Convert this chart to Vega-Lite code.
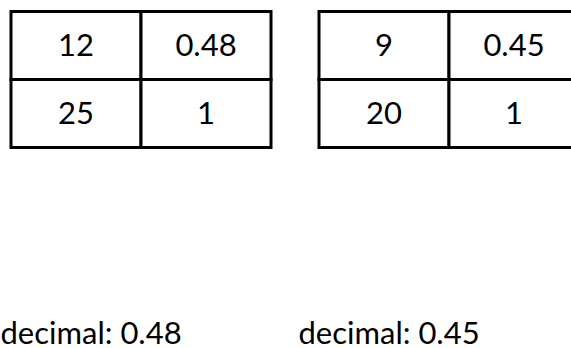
{
  "$schema": "https://vega.github.io/schema/vega-lite/v6.json",
  "padding": {"left": 0, "top": 9.5, "right": 0, "bottom": 0},
  "spacing": 25,
  "background": "white",
  "config": {"view": {"stroke": null}, "font": "Lato"},
  "datasets": {
    "cells": [
      {"table": "A", "row": 1, "col": 1, "value": "12"},
      {"table": "A", "row": 1, "col": 2, "value": "0.48"},
      {"table": "A", "row": 2, "col": 1, "value": "25"},
      {"table": "A", "row": 2, "col": 2, "value": "1"},
      {"table": "B", "row": 1, "col": 1, "value": "9"},
      {"table": "B", "row": 1, "col": 2, "value": "0.45"},
      {"table": "B", "row": 2, "col": 1, "value": "20"},
      {"table": "B", "row": 2, "col": 2, "value": "1"}
    ]
  },
  "hconcat": [
    {
      "width": 260,
      "height": 136,
      "data": {"name": "cells"},
      "transform": [{"filter": "datum.table == 'A'"}],
      "title": {"text": "decimal: 0.48", "orient": "bottom", "anchor": "start", "dx": -9, "offset": 195, "fontSize": 31, "fontWeight": "normal", "font": "Lato", "color": "black", "baseline": "alphabetic"},
      "layer": [
        {
          "mark": {"type": "rect", "fill": "white", "stroke": "black", "strokeWidth": 3},
          "encoding": {
            "x": {"field": "col", "type": "ordinal", "axis": null, "scale": {"paddingInner": 0, "paddingOuter": 0}},
            "y": {"field": "row", "type": "ordinal", "axis": null, "scale": {"paddingInner": 0, "paddingOuter": 0}}
          }
        },
        {
          "mark": {"type": "text", "fontSize": 31, "font": "Lato", "color": "black", "baseline": "middle", "dy": 1},
          "encoding": {
            "x": {"field": "col", "type": "ordinal", "axis": null},
            "y": {"field": "row", "type": "ordinal", "axis": null},
            "text": {"field": "value"}
          }
        }
      ]
    },
    {
      "width": 260,
      "height": 136,
      "data": {"name": "cells"},
      "transform": [{"filter": "datum.table == 'B'"}],
      "title": {"text": "decimal: 0.45", "orient": "bottom", "anchor": "start", "dx": -19, "offset": 195, "fontSize": 31, "fontWeight": "normal", "font": "Lato", "color": "black", "baseline": "alphabetic"},
      "layer": [
        {
          "mark": {"type": "rect", "fill": "white", "stroke": "black", "strokeWidth": 3},
          "encoding": {
            "x": {"field": "col", "type": "ordinal", "axis": null, "scale": {"paddingInner": 0, "paddingOuter": 0}},
            "y": {"field": "row", "type": "ordinal", "axis": null, "scale": {"paddingInner": 0, "paddingOuter": 0}}
          }
        },
        {
          "mark": {"type": "text", "fontSize": 31, "font": "Lato", "color": "black", "baseline": "middle", "dy": 1},
          "encoding": {
            "x": {"field": "col", "type": "ordinal", "axis": null},
            "y": {"field": "row", "type": "ordinal", "axis": null},
            "text": {"field": "value"}
          }
        }
      ]
    }
  ]
}
